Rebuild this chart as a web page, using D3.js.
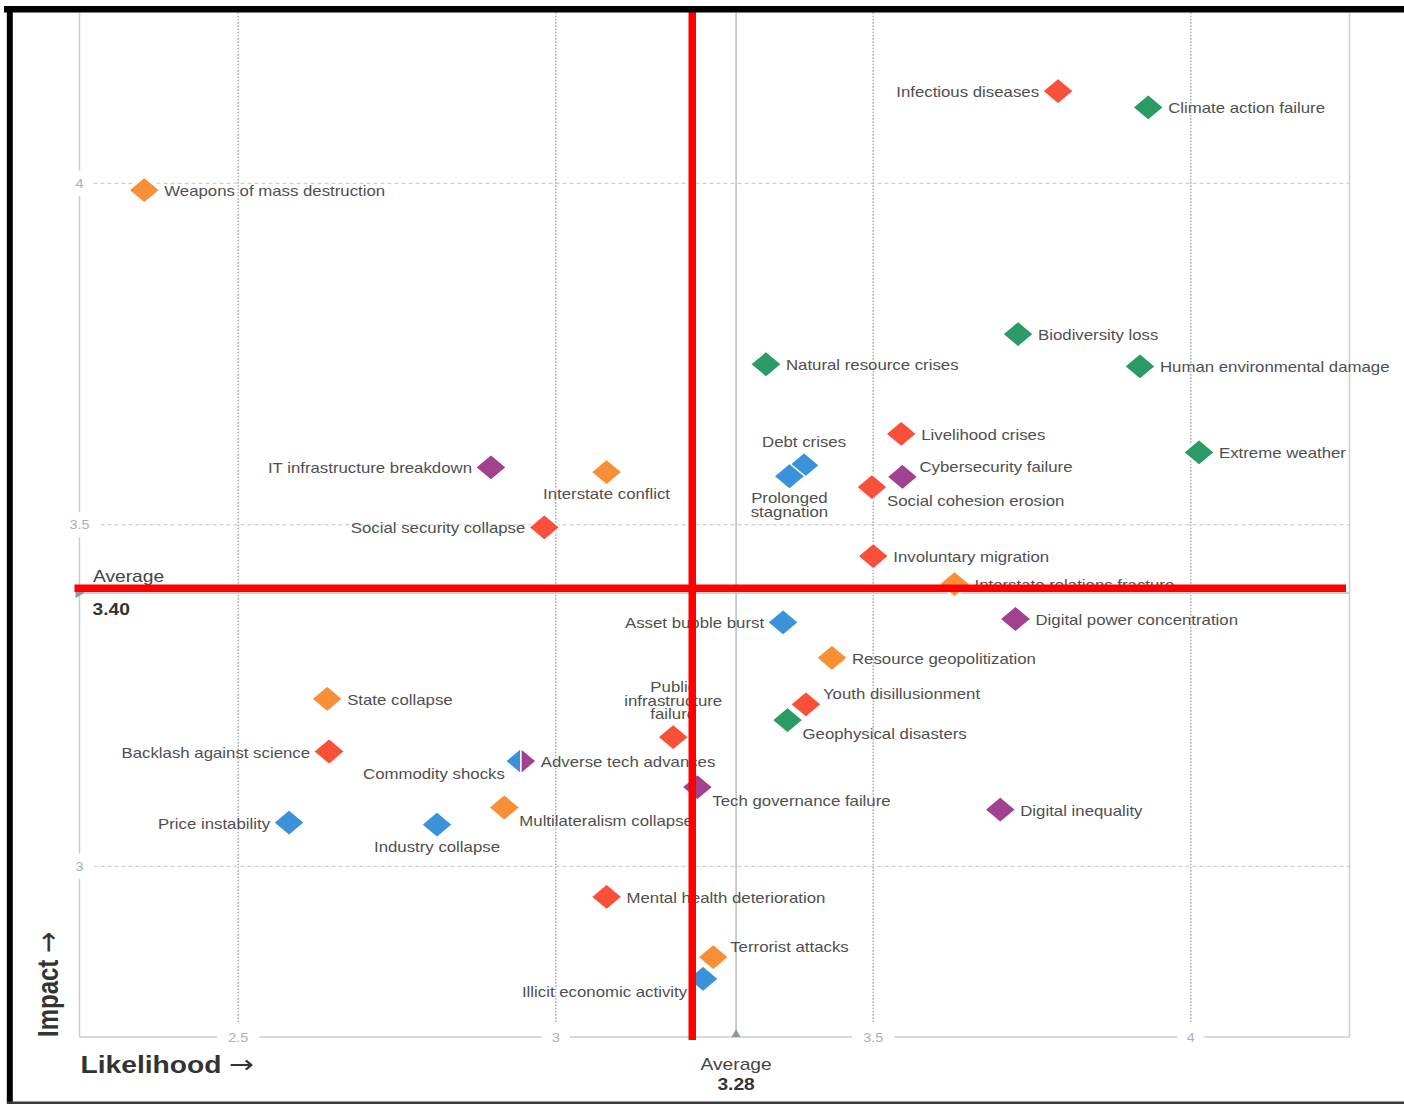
<!DOCTYPE html>
<html>
<head>
<meta charset="utf-8">
<script src="https://cdn.jsdelivr.net/npm/d3@7"></script>
<style>
  html, body { margin: 0; padding: 0; background: #fff; }
  svg { display: block; }
  text { font-family: "Liberation Sans", Arial, Helvetica, sans-serif; }
</style>
</head>
<body>
<svg id="chart" width="1404" height="1104"></svg>
<script>
// ---------- DATA ----------
const risks = [
  "Infectious diseases", "Climate action failure", "Weapons of mass destruction",
  "Biodiversity loss", "Natural resource crises", "Human environmental damage",
  "Livelihood crises", "Extreme weather", "Debt crises", "Prolonged\nstagnation",
  "Cybersecurity failure", "Social cohesion erosion", "IT infrastructure breakdown",
  "Interstate conflict", "Social security collapse", "Involuntary migration",
  "Interstate relations fracture", "Digital power concentration", "Asset bubble burst",
  "Resource geopolitization", "State collapse", "Youth disillusionment",
  "Geophysical disasters", "Public\ninfrastructure\nfailure", "Backlash against science",
  "Commodity shocks", "Adverse tech advances", "Tech governance failure",
  "Multilateralism collapse", "Digital inequality", "Price instability",
  "Industry collapse", "Mental health deterioration", "Illicit economic activity",
  "Terrorist attacks"
];
const likelihood = [
  3.791, 3.933, 2.352,
  3.728, 3.331, 3.920,
  3.544, 4.013, 3.391, 3.368,
  3.546, 3.498, 2.898,
  3.080, 2.982, 3.500,
  3.628, 3.724, 3.358,
  3.435, 2.640, 3.394,
  3.365, 3.185, 2.643,
  2.945, 2.945, 3.223,
  2.919, 3.700, 2.580,
  2.813, 3.080, 3.232,
  3.248
];
const impact = [
  4.135, 4.111, 3.990,
  3.779, 3.735, 3.732,
  3.633, 3.606, 3.587, 3.571,
  3.570, 3.555, 3.584,
  3.577, 3.496, 3.454,
  3.413, 3.362, 3.357,
  3.305, 3.245, 3.237,
  3.214, 3.189, 3.168,
  3.154, 3.154, 3.116,
  3.086, 3.083, 3.064,
  3.061, 2.955, 2.835,
  2.867
];
const category = [
  "Societal", "Environmental", "Geopolitical",
  "Environmental", "Environmental", "Environmental",
  "Societal", "Environmental", "Economic", "Economic",
  "Technological", "Societal", "Technological",
  "Geopolitical", "Societal", "Societal",
  "Geopolitical", "Technological", "Economic",
  "Geopolitical", "Geopolitical", "Societal",
  "Environmental", "Societal", "Societal",
  "Economic", "Technological", "Technological",
  "Geopolitical", "Technological", "Economic",
  "Economic", "Societal", "Economic",
  "Geopolitical"
];
// label placement relative to the marker: r right, l left, a above, b below,
// rb right-below, ra right-above, lb left-below
const labelSide = [
  "l", "r", "r",
  "r", "r", "r",
  "r", "r", "a", "b",
  "ra", "rb", "l",
  "b", "l", "r",
  "r", "r", "l",
  "r", "r", "ra",
  "rb", "a", "l",
  "lb", "r", "rb",
  "rb", "r", "l",
  "b", "r", "lb",
  "ra"
];
const xTicks = [2.5, 3, 3.5, 4];
const yTicks = [3, 3.5, 4];
const xDomain = [2.25, 4.25];
const yDomain = [2.75, 4.25];
const avgLikelihood = 3.284;
const avgImpact = 3.40;
const markLikelihood = 3.215;   // red annotation line (vertical)
const markImpact = 3.407;       // red annotation line (horizontal)

// ---------- STYLE ----------
const colors = {
  Societal: "#F9503A",
  Environmental: "#2A9A66",
  Geopolitical: "#F78F37",
  Economic: "#3A93DA",
  Technological: "#A1418F"
};
const SX = 1.2;             // horizontal stretch of the original picture
const HW = 15.5, HH = 13;   // diamond half width / height

const svg = d3.select("#chart");
const x = d3.scaleLinear().domain(xDomain).range([79.5, 1349.5]);
const y = d3.scaleLinear().domain(yDomain).range([1037, 12.5]);
const pTop = y(yDomain[1]), pBottom = y(yDomain[0]);
const pLeft = x(xDomain[0]), pRight = x(xDomain[1]);

function stretchedText(g, tx, ty, str, opts) {
  return g.append("text")
    .attr("transform", `translate(${tx},${ty}) scale(${SX},1)` + (opts.rotate ? ` rotate(${opts.rotate})` : ""))
    .attr("text-anchor", opts.anchor || "start")
    .attr("font-size", opts.size || 14)
    .attr("font-weight", opts.weight || "normal")
    .attr("fill", opts.fill || "#505050")
    .text(str);
}

// ---------- GRID ----------
const grid = svg.append("g");
grid.selectAll(".vg").data(xTicks).join("line")
  .attr("x1", d => x(d)).attr("x2", d => x(d))
  .attr("y1", pTop).attr("y2", pBottom - 14)
  .attr("stroke", "#a9b2be").attr("stroke-width", 1.5)
  .attr("stroke-dasharray", "1.6,1.6");
grid.selectAll(".hg").data(yTicks).join("line")
  .attr("x1", pLeft).attr("x2", pRight)
  .attr("y1", d => y(d)).attr("y2", d => y(d))
  .attr("stroke", "#bfc4cb").attr("stroke-width", 1)
  .attr("stroke-dasharray", "4,3");

// axis frame lines
grid.append("line").attr("x1", pLeft).attr("x2", pLeft).attr("y1", pTop).attr("y2", pBottom)
  .attr("stroke", "#c9ced6").attr("stroke-width", 1.5);
grid.append("line").attr("x1", pRight).attr("x2", pRight).attr("y1", pTop).attr("y2", pBottom)
  .attr("stroke", "#c9ced6").attr("stroke-width", 1.5);
grid.append("line").attr("x1", pLeft).attr("x2", pRight).attr("y1", pBottom).attr("y2", pBottom)
  .attr("stroke", "#c9ced6").attr("stroke-width", 1.5);

// average lines
grid.append("line").attr("x1", x(avgLikelihood)).attr("x2", x(avgLikelihood))
  .attr("y1", pTop).attr("y2", pBottom)
  .attr("stroke", "#b9bfc9").attr("stroke-width", 1.5);
grid.append("line").attr("x1", pLeft).attr("x2", pRight)
  .attr("y1", y(avgImpact)).attr("y2", y(avgImpact))
  .attr("stroke", "#b9bfc9").attr("stroke-width", 1.5);
grid.append("path")
  .attr("d", `M${x(avgLikelihood) - 4.5},${pBottom} L${x(avgLikelihood) + 4.5},${pBottom} L${x(avgLikelihood)},${pBottom - 8} Z`)
  .attr("fill", "#8d97a4");
grid.append("path")
  .attr("d", `M${pLeft - 4},${y(avgImpact) - 5} L${pLeft - 4},${y(avgImpact) + 5} L${pLeft + 5},${y(avgImpact)} Z`)
  .attr("fill", "#8d97a4");

// ---------- AXIS TICK LABELS ----------
const tickG = svg.append("g");
const fmt = d => String(d);
xTicks.forEach(v => {
  const w = fmt(v).length * 6.2 * SX;
  tickG.append("rect").attr("x", x(v) - w / 2 - 10).attr("y", pBottom - 13)
    .attr("width", w + 20).attr("height", 26).attr("fill", "#fff");
  stretchedText(tickG, x(v), pBottom + 4.5, fmt(v), { anchor: "middle", size: 12, fill: "#a7afba" });
});
yTicks.forEach(v => {
  const w = fmt(v).length * 6.2 * SX;
  tickG.append("rect").attr("x", pLeft - w / 2 - 4).attr("y", y(v) - 12.5)
    .attr("width", w + 14).attr("height", 25).attr("fill", "#fff");
  stretchedText(tickG, pLeft, y(v) + 4.5, fmt(v), { anchor: "middle", size: 12, fill: "#a7afba" });
});

// ---------- MARKERS ----------
const pts = risks.map((name, i) => ({
  name, lx: likelihood[i], iy: impact[i], cat: category[i], side: labelSide[i]
}));
// points sharing a position are split into half diamonds
pts.forEach((p, i) => {
  const twin = pts.findIndex((q, j) => j !== i && q.lx === p.lx && q.iy === p.iy);
  p.half = twin < 0 ? null : (twin > i ? "left" : "right");
});
function diamondPath(half) {
  if (half === "left") return `M0,${-HH} L0,${HH} L${-HW},0 Z`;
  if (half === "right") return `M0,${-HH} L${HW},0 L0,${HH} Z`;
  return `M0,${-HH} L${HW},0 L0,${HH} L${-HW},0 Z`;
}
const markG = svg.append("g");
markG.selectAll("path").data(pts).join("path")
  .attr("transform", d => `translate(${x(d.lx)},${y(d.iy)})`)
  .attr("d", d => diamondPath(d.half))
  .attr("fill", d => colors[d.cat])
  .attr("stroke", "#fff").attr("stroke-width", 1.6)
  .attr("stroke-linejoin", "miter");

// ---------- LABELS ----------
const labG = svg.append("g");
const LH = 13.5;
pts.forEach(p => {
  const cx = x(p.lx), cy = y(p.iy);
  const lines = p.name.split("\n");
  let dx = 0, dy = 0, anchor = "start";
  switch (p.side) {
    case "r": dx = 20; dy = 6; break;
    case "l": dx = -19; dy = 6; anchor = "end"; break;
    case "a": dx = 0; dy = -18 - (lines.length - 1) * LH; anchor = "middle"; break;
    case "b": dx = 0; dy = 27; anchor = "middle"; break;
    case "rb": dx = 15; dy = 18.5; break;
    case "ra": dx = 17; dy = -5; break;
    case "lb": dx = -16; dy = 18; anchor = "end"; break;
  }
  lines.forEach((ln, k) => {
    stretchedText(labG, cx + dx, cy + dy + k * LH, ln, { anchor, size: 14, fill: "#4f4f4f" });
  });
});

// ---------- AVERAGE LABELS ----------
const avgG = svg.append("g");
stretchedText(avgG, x(avgLikelihood), pBottom + 33, "Average", { anchor: "middle", size: 16, fill: "#444" });
stretchedText(avgG, x(avgLikelihood), pBottom + 53, avgLikelihood.toFixed(2), { anchor: "middle", size: 16, weight: "bold", fill: "#333" });
stretchedText(avgG, pLeft + 13.5, y(avgImpact) - 11, "Average", { anchor: "start", size: 16, fill: "#444" });
stretchedText(avgG, pLeft + 13, y(avgImpact) + 21.5, avgImpact.toFixed(2), { anchor: "start", size: 16, weight: "bold", fill: "#333" });

// ---------- AXIS TITLES ----------
function axisTitle(tx, ty, str, size, rotate) {
  const t = stretchedText(svg, tx, ty, "", { size, weight: "bold", fill: "#333", rotate });
  t.append("tspan").text(str + " ");
  t.append("tspan").attr("font-family", "DejaVu Sans").attr("font-weight", "normal")
    .attr("font-size", size * 1.05).attr("dy", 0).text("\u2192");
}
axisTitle(pLeft + 1, 1073, "Likelihood", 23.5, 0);
axisTitle(58, pBottom, "Impact", 24, -90);

// ---------- RED ANNOTATION LINES ----------
const red = svg.append("g");
red.append("line").attr("x1", x(markLikelihood)).attr("x2", x(markLikelihood))
  .attr("y1", pTop - 1).attr("y2", pBottom + 3)
  .attr("stroke", "#ff0000").attr("stroke-width", 7.5);
red.append("line").attr("x1", pLeft - 5).attr("x2", pRight - 3.5)
  .attr("y1", y(markImpact)).attr("y2", y(markImpact))
  .attr("stroke", "#ff0000").attr("stroke-width", 7.5);

// ---------- OUTER FRAME ----------
svg.append("line").attr("x1", 4).attr("x2", 1404).attr("y1", 9.3).attr("y2", 9.3)
  .attr("stroke", "#000").attr("stroke-width", 6.5);
svg.append("line").attr("x1", 9.8).attr("x2", 9.8).attr("y1", 6).attr("y2", 1104)
  .attr("stroke", "#000").attr("stroke-width", 6);
svg.append("line").attr("x1", 7).attr("x2", 1404).attr("y1", 1102.8).attr("y2", 1102.8)
  .attr("stroke", "#3a3a3a").attr("stroke-width", 2.5);
</script>
</body>
</html>
